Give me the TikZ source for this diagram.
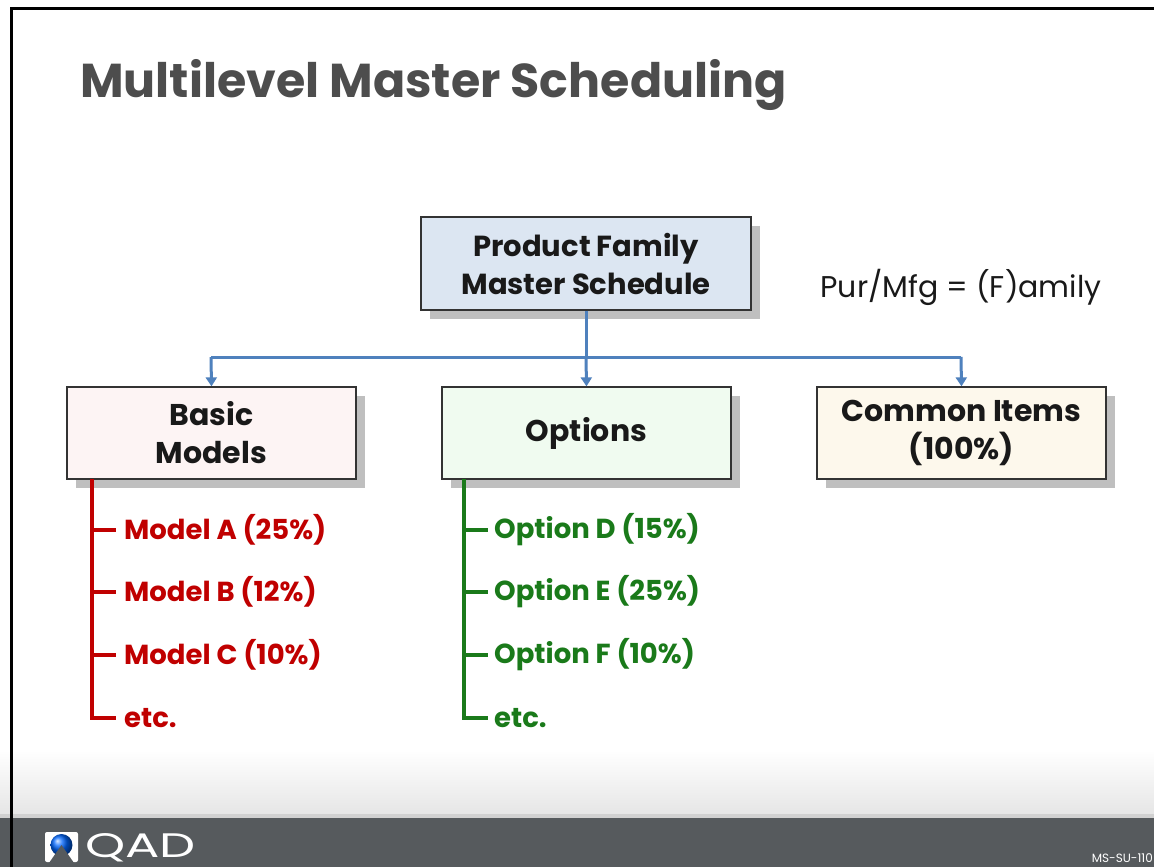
\documentclass[tikz,border=0pt]{standalone}
\usepackage{fontspec}
\setmainfont{Poppins}
\usetikzlibrary{shadows,arrows.meta}
\definecolor{titlegray}{HTML}{4D4D4D}
\definecolor{linkblue}{HTML}{4F81BD}
\definecolor{topfill}{HTML}{DCE6F2}
\definecolor{pinkfill}{HTML}{FDF4F4}
\definecolor{greenfill}{HTML}{F0FBF0}
\definecolor{creamfill}{HTML}{FDF8EC}
\definecolor{listred}{HTML}{C00000}
\definecolor{listgreen}{HTML}{1A7A1A}
\definecolor{footgray}{HTML}{565A5D}
\definecolor{shadowgray}{HTML}{BFBFBF}
\tikzset{
  boxnode/.style={draw=black!80, line width=1.3pt, minimum width=#1, align=center,
    font=\fontsize{30}{38}\selectfont\bfseries, text=black!90,
    drop shadow={shadow xshift=9pt, shadow yshift=-9pt, fill=shadowgray, opacity=1}},
  boxnode/.default=289pt,
  link/.style={draw=linkblue, line width=3pt},
  linkarrow/.style={link, -{Triangle[length=9pt,width=11pt]}},
  redline/.style={draw=listred, line width=3.2pt},
  greenline/.style={draw=listgreen, line width=3.2pt},
  redtext/.style={anchor=west, text=listred, font=\fontsize{27.5}{30}\selectfont\bfseries, inner sep=0pt},
  greentext/.style={anchor=west, text=listgreen, font=\fontsize{27.5}{30}\selectfont\bfseries, inner sep=0pt},
}
\begin{document}
\begin{tikzpicture}[x=1pt,y=-1pt]
\useasboundingbox (0,0) rectangle (1154,867);
% background
\fill[white] (0,0) rectangle (1154,867);
\shade[top color=white, bottom color=black!10] (0,750) rectangle (1154,815);
\fill[black!18] (0,814) rectangle (1154,818);
\fill[footgray] (0,818) rectangle (1154,867);
% frame
\draw[line width=3pt] (11.5,867) -- (11.5,9) -- (1154,9);
% title
\node[anchor=base west, inner sep=0pt, text=titlegray, font=\fontsize{47.5}{56}\selectfont\bfseries] (title) at (80,97) {Multilevel Master Scheduling};
% top box
\node[boxnode=330pt, fill=topfill, minimum height=93pt, font=\fontsize{29}{38}\selectfont\bfseries] (top) at (586,263.5) {Product Family\\Master Schedule};
\node[anchor=center, inner sep=0pt, font=\fontsize{30}{34}\selectfont, text=black!90] (pur) at (961,287) {Pur/Mfg = (F)amily};
% second level boxes
\node[boxnode, fill=pinkfill, minimum height=92pt] (basic) at (211.5,433) {Basic\\Models};
\node[boxnode, fill=greenfill, minimum height=92pt] (opt) at (586.5,433) {Options};
\node[boxnode, fill=creamfill, minimum height=92pt] (common) at (961.5,433) {Common Items\\(100\%)};
% connectors
\coordinate (hub) at (586,357);
\coordinate (hl) at (211,357);
\coordinate (hr) at (961,357);
\draw[link] (top.south) -- (hub);
\draw[link] (hl) -- (hr);
\draw[linkarrow] (hl) -- (basic.north);
\draw[linkarrow] (hub) -- (opt.north);
\draw[linkarrow] (hr) -- (common.north);
% red list
\coordinate (rtop) at (92,479);
\coordinate (rbot) at (92,718);
\draw[redline] (rtop) -- (rbot) -- ++(24,0);
\foreach \yy in {530,592,655} \draw[redline] (92,\yy) -- ++(24,0);
\node[redtext] (ma) at (124,530) {Model A (25\%)};
\node[redtext] (mb) at (124,592) {Model B (12\%)};
\node[redtext] (mc) at (124,655) {Model C (10\%)};
\node[redtext] (me) at (124,718) {etc.};
% green list
\coordinate (gtop) at (464,479);
\coordinate (gbot) at (464,718);
\draw[greenline] (gtop) -- (gbot) -- ++(24,0);
\foreach \yy in {530,592,655} \draw[greenline] (464,\yy) -- ++(24,0);
\node[greentext] (od) at (494,530) {Option D (15\%)};
\node[greentext] (oe) at (494,592) {Option E (25\%)};
\node[greentext] (of) at (494,655) {Option F (10\%)};
\node[greentext] (oetc) at (494,718) {etc.};
% footer logo
\fill[white, rounded corners=2pt] (45,832) rectangle (78,862);
\shade[ball color=blue!60!cyan] (61.5,845) circle (11);
\fill[footgray] (49,863) -- (61.5,845) -- (74,863) -- cycle;
\node[anchor=base west, inner sep=0pt, text=white, font=\fontsize{34}{36}\selectfont] (qad) at (85,857) {\scalebox{1.5}[1]{QAD}};
\node[anchor=base east, inner sep=0pt, text=white, font=\fontsize{12}{13}\selectfont] (code) at (1153,862) {MS-SU-110};
\end{tikzpicture}
\end{document}
